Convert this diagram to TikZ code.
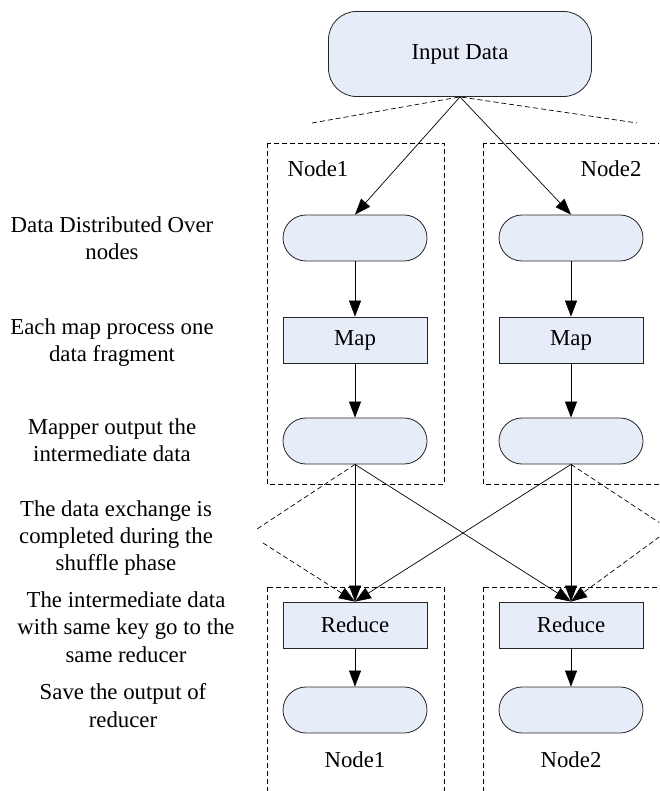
\documentclass[tikz,border=0pt]{standalone}
\usepackage{fontspec}
\setmainfont{Liberation Serif}
\usetikzlibrary{positioning,arrows.meta}

\definecolor{cellfill}{RGB}{230,237,248}

\tikzset{
    pill/.style={draw=black!85, fill=cellfill, line width=0.8pt, rounded corners=23pt,
                 minimum width=144pt, minimum height=46pt, inner sep=0pt},
    procbox/.style={draw=black!85, fill=cellfill, line width=0.8pt,
                 minimum width=144pt, minimum height=46pt, inner sep=0pt},
    inputbox/.style={draw=black!85, fill=cellfill, line width=0.8pt, rounded corners=28pt,
                 minimum width=263pt, minimum height=85pt, inner sep=0pt},
    frame/.style={dash pattern=on 5pt off 3pt, line width=0.7pt},
    flow/.style={line width=0.7pt, -{Triangle[length=16pt,width=12pt]}},
    note/.style={align=center, inner sep=0pt}
}

\begin{document}
\begin{tikzpicture}[x=1pt, y=-1pt, font=\fontsize{22.8}{27.3}\selectfont]
    \useasboundingbox (0,0) rectangle (659,791);
    \clip (0,0) rectangle (659,791);

    % dashed node frames (the right and lower ones run off the edge)
    \draw[frame] (267,143) rectangle (444,484);
    \draw[frame] (483,143) rectangle (672,484);
    \draw[frame] (267,587) rectangle (444,805);
    \draw[frame] (483,587) rectangle (672,805);

    % boxes
    \node[inputbox] (input) at (460,54) {Input Data};
    \foreach \col/\x in {1/355,2/571} {
        \node[pill] (split\col) at (\x,238) {};
        \node[procbox] (map\col) at (\x,340) {Map};
        \node[pill] (inter\col) at (\x,441) {};
        \node[procbox] (reduce\col) at (\x,625) {Reduce};
        \node[pill] (out\col) at (\x,710) {};
        \node (lower\col) at (\x,760) {Node\col};
    }
    \node (upper1) at (318,169) {Node1};
    \node (upper2) at (611,169) {Node2};

    % step descriptions
    \node[note] (step1) at (112,238) {Data Distributed Over\\nodes};
    \node[note] (step2) at (112,342.5) {Each map process one\\data fragment};
    \node[note] (step3) at (112,440.5) {Mapper output the\\intermediate data};
    \node[note] (step4) at (116,538) {The data exchange is\\completed during the\\shuffle phase};
    \node[note] (step5) at (126,627) {The intermediate data\\with same key go to the\\same reducer};
    \node[note] (step6) at (123,705.5) {Save the output of\\reducer};

    % spread of the input
    \coordinate (spreadL) at (312,123);
    \coordinate (spreadR) at (637,123);
    \draw[frame] (spreadL) -- (input.south) -- (spreadR);

    % flow inside each node
    \foreach \col in {1,2} {
        \draw[flow] (split\col.south) -- (map\col.north);
        \draw[flow] (map\col.south) -- (inter\col.north);
        \draw[flow] (inter\col.south) -- (reduce\col.north);
        \draw[flow] (reduce\col.south) -- (out\col.north);
    }
    \draw[flow] (input.south) -- (split1.north);
    \draw[flow] (input.south) -- (split2.north);

    % shuffle
    \draw[flow] (inter1.south) -- (reduce2.north);
    \draw[flow] (inter2.south) -- (reduce1.north);
    \coordinate (shufL1) at (257,529);
    \coordinate (shufL2) at (263,543);
    \coordinate (shufR1) at (669,529);
    \coordinate (shufR2) at (666,532);
    \draw[frame] (inter1.south) -- (shufL1);
    \draw[frame, flow] (shufL2) -- (reduce1.north);
    \draw[frame] (inter2.south) -- (shufR1);
    \draw[frame, flow] (shufR2) -- (reduce2.north);
\end{tikzpicture}
\end{document}
